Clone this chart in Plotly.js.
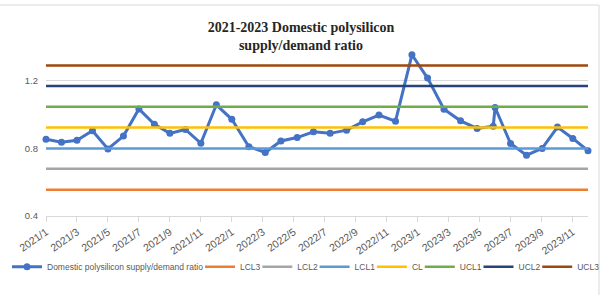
<!DOCTYPE html>
<html><head><meta charset="utf-8">
<script src="https://cdn.plot.ly/plotly-3.0.1.min.js"></script>
<style>html,body{margin:0;padding:0;background:#fff}#chart{width:608px;height:295px}</style>
</head><body><div id="chart"></div>
<script>
// Month categories (x axis)
const monthLabels = [
  '2021/1','2021/2','2021/3','2021/4','2021/5','2021/6','2021/7','2021/8','2021/9','2021/10','2021/11','2021/12',
  '2022/1','2022/2','2022/3','2022/4','2022/5','2022/6','2022/7','2022/8','2022/9','2022/10','2022/11','2022/12',
  '2023/1','2023/2','2023/3','2023/4','2023/5','2023/6','2023/7','2023/8','2023/9','2023/10','2023/11','2023/12'
];
const tickLabels = ['2021/1','2021/3','2021/5','2021/7','2021/9','2021/11','2022/1','2022/3','2022/5','2022/7','2022/9','2022/11','2023/1','2023/3','2023/5','2023/7','2023/9','2023/11'];

// Main series: position along the month axis (0 = 2021/1) and ratio values
const ratioMonthPos = [0, 1, 2, 3, 4, 5, 6, 7, 8, 9, 10, 11, 12, 13.1, 14.16, 15.17, 16.22, 17.27, 18.35, 19.41, 20.45, 21.5, 22.57, 23.63, 24.64, 25.7, 26.77, 27.84, 28.88, 29.0, 30.0, 31.03, 32.04, 33.03, 34.02, 35.0];
const ratioValues = [0.854, 0.836, 0.848, 0.904, 0.797, 0.873, 1.033, 0.943, 0.889, 0.912, 0.830, 1.058, 0.972, 0.810, 0.776, 0.844, 0.864, 0.898, 0.889, 0.908, 0.957, 0.997, 0.961, 1.354, 1.216, 1.032, 0.963, 0.918, 0.931, 1.042, 0.829, 0.760, 0.800, 0.926, 0.859, 0.786];

// Control limits
const limitNames = ['LCL3', 'LCL2', 'LCL1', 'CL', 'UCL1', 'UCL2', 'UCL3'];
const limitValues = [0.556, 0.679, 0.800, 0.924, 1.046, 1.169, 1.291];

const seriesName = 'Domestic polysilicon supply/demand ratio';

// Styles
const limitColors = ['#ED7D31', '#A5A5A5', '#5B9BD5', '#FFC000', '#70AD47', '#264478', '#9E480E'];
const limitLegendWidths = [12.3, 12.3, 12.3, 2.9, 13.7, 25, 25];
const limitLegendRef = ['legend', 'legend', 'legend', 'legend', 'legend', 'legend', 'legend2'];
const mainColor = '#4472C4';
const txtFont = 'Liberation Sans, Arial, sans-serif';

const monthPos = monthLabels.map((_, i) => i);
const tickPos = tickLabels.map(l => monthLabels.indexOf(l));

const traces = [{
  type: 'scatter', mode: 'lines+markers', name: seriesName,
  x: ratioMonthPos, y: ratioValues,
  line: {color: mainColor, width: 3},
  marker: {color: mainColor, size: 7},
  legendwidth: 148, cliponaxis: false
}];
limitNames.forEach((n, i) => {
  traces.push({
    type: 'scatter', mode: 'lines', name: n,
    x: monthPos, y: monthPos.map(() => limitValues[i]),
    line: {color: limitColors[i], width: 2.5},
    legend: limitLegendRef[i],
    legendwidth: limitLegendWidths[i]
  });
});

const legendFont = {family: txtFont, size: 8.5, color: '#595959'};
const layout = {
  width: 608, height: 295,
  paper_bgcolor: '#fff', plot_bgcolor: '#fff',
  margin: {l: 46, r: 20, t: 47, b: 79, autoexpand: false},
  showlegend: true,
  title: {
    text: '<b>2021-2023 Domestic polysilicon<br>supply/demand ratio</b>',
    font: {family: 'Liberation Serif, Times New Roman, serif', size: 14, color: '#262626'},
    x: 0.495, xanchor: 'center', xref: 'container',
    y: 0.892, yanchor: 'top', yref: 'container'
  },
  xaxis: {
    range: [0, 35], tickmode: 'array', tickvals: tickPos, ticktext: tickLabels,
    tickangle: -35, ticks: 'outside', ticklen: 5, tickcolor: '#d9d9d9',
    showline: true, linecolor: '#d9d9d9', linewidth: 1, showgrid: false, zeroline: false,
    tickfont: {family: txtFont, size: 10.5, color: '#595959'}
  },
  yaxis: {
    range: [0.4, 1.4], tick0: 0.4, dtick: 0.4, tickformat: '.1f',
    showgrid: true, gridcolor: '#d9d9d9', gridwidth: 1, zeroline: false, showline: false,
    ticks: '', ticklabelstandoff: 7,
    tickfont: {family: txtFont, size: 9.5, color: '#595959'}
  },
  legend: {
    orientation: 'h', x: (7 - 46) / 542, xanchor: 'left', y: -0.30, yanchor: 'middle',
    font: legendFont, itemwidth: 30, bgcolor: 'rgba(0,0,0,0)', traceorder: 'normal'
  },
  legend2: {
    orientation: 'h', x: (537.2 - 46) / 542, xanchor: 'left', y: -0.30, yanchor: 'middle',
    font: legendFont, itemwidth: 30, bgcolor: 'rgba(0,0,0,0)'
  },
  shapes: [
    {type: 'line', xref: 'paper', yref: 'paper', x0: (0 - 46) / 542, x1: (599 - 46) / 542, y0: (216 - 5) / 169, y1: (216 - 5) / 169, line: {color: '#d9d9d9', width: 1}},
    {type: 'line', xref: 'paper', yref: 'paper', x0: (599 - 46) / 542, x1: (599 - 46) / 542, y0: (216 - 5) / 169, y1: (216 - 295) / 169, line: {color: '#d9d9d9', width: 1}}
  ]
};

Plotly.newPlot('chart', traces, layout, {displayModeBar: false, staticPlot: true});
</script>
</body></html>
